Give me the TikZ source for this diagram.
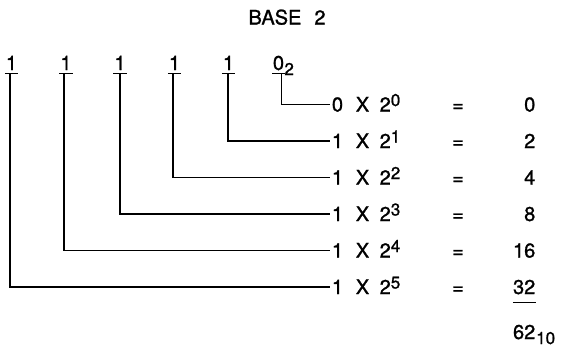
\documentclass[tikz,border=0pt]{standalone}
\usepackage{fontspec}
\setmainfont{TeX Gyre Heros}[AutoFakeBold=1.2]
\begin{document}
\begin{tikzpicture}[x=1pt,y=-1pt,
  txt/.style={inner sep=0pt, font=\fontsize{20}{23}\selectfont\bfseries},
  small/.style={inner sep=0pt, font=\fontsize{17}{19}\selectfont\bfseries},
  bitnode/.style={txt, anchor=base, minimum width=13pt},
  conn/.style={line width=1.3pt, line join=miter},
  bar/.style={line width=1.3pt},
]
\useasboundingbox (0,0) rectangle (561,356);

% title
\node[txt, anchor=base] (title) at (287,24.5) {BASE\hspace{13pt}2};

% top binary digits
\node[bitnode] (b5) at (11.5,70) {1};
\node[bitnode] (b4) at (66,70) {1};
\node[bitnode] (b3) at (120,70) {1};
\node[bitnode] (b2) at (174.5,70) {1};
\node[bitnode] (b1) at (228.5,70) {1};
\node[bitnode, minimum width=12pt] (b0) at (278.5,70) {0};
\node[small, anchor=base west] (sub2) at ([xshift=-0.5pt,yshift=-5pt]b0.base east) {2};

% bars under the digits
\foreach \n in {b5,b4,b3,b2,b1,b0}
  \draw[bar] ([yshift=-3pt]\n.south west) -- ([yshift=-3pt]\n.south east);

% rows
\foreach \k/\d/\r in {0/0/0,1/1/2,2/1/4,3/1/8,4/1/16,5/1/32}{
  \pgfmathsetmacro{\yb}{111.5+36.5*\k}
  \node[txt, anchor=base] (t\k) at (337.5,\yb) {\d};
  \node[txt, anchor=base] (x\k) at (362.5,\yb) {X};
  \node[txt, anchor=base west] (p\k) at (379.5,\yb) {2\raisebox{5.5pt}{\fontsize{17}{19}\selectfont\bfseries\k}};
  \node[txt, anchor=base] (e\k) at (458,\yb) {=};
  \node[txt, anchor=base east] (r\k) at (535.5,\yb) {\r};
}

% connectors
\draw[conn] ([xshift=-1.5pt,yshift=-3pt]b5.south) |- ([xshift=-1.5pt]t5.west);
\draw[conn] ([xshift=-2pt,yshift=-3pt]b4.south) |- ([xshift=-1.5pt]t4.west);
\draw[conn] ([yshift=-3pt]b3.south) |- ([xshift=-1.5pt]t3.west);
\draw[conn] ([xshift=-1.5pt,yshift=-3pt]b2.south) |- ([xshift=-1.5pt]t2.west);
\draw[conn] ([xshift=-0.5pt,yshift=-3pt]b1.south) |- ([xshift=-1.5pt]t1.west);
\draw[conn] ([xshift=3pt,yshift=-3pt]b0.south) |- ([xshift=-1.5pt]t0.west);

% sum underline and total
\draw[line width=1.1pt] ([yshift=-8pt]r5.south west) -- ([yshift=-8pt]r5.south east);
\node[txt, anchor=base east] (total) at (535.5,339) {62};
\node[small, anchor=base west] (sub10) at ([xshift=0.5pt,yshift=-5pt]total.base east) {10};
\end{tikzpicture}
\end{document}
